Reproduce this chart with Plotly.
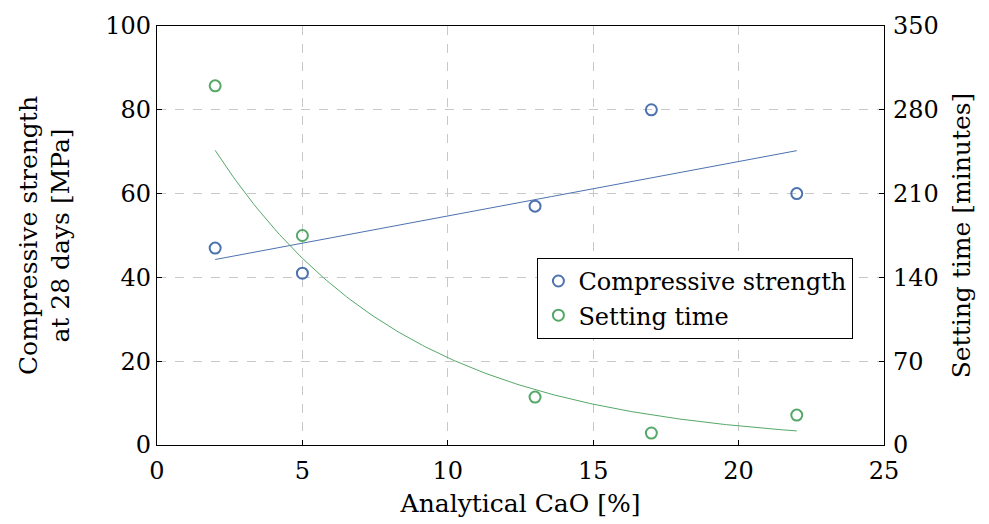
import numpy as np
import plotly.graph_objects as go

cao = [2, 5, 13, 17, 22]
strength = [47, 41, 57, 80, 60]
setting = [300, 175, 40, 10, 25]

x_ticks = [0, 5, 10, 15, 20, 25]
y1_ticks = [0, 20, 40, 60, 80, 100]
y2_ticks = [0, 70, 140, 210, 280, 350]

BLUE = "#4C72B0"
GREEN = "#55A868"
FONT = "DejaVu Serif, Liberation Serif, serif"

# regression fits derived from the data
lin = np.polyfit(cao, strength, 1)
xs = np.linspace(min(cao), max(cao), 200)
lin_y = np.polyval(lin, xs)
ex = np.polyfit(cao, np.log(setting), 1)
exp_y = np.exp(np.polyval(ex, xs))

fig = go.Figure()
fig.add_trace(go.Scatter(x=xs, y=lin_y, mode="lines", line=dict(color=BLUE, width=1),
                         showlegend=False, hoverinfo="skip"))
fig.add_trace(go.Scatter(x=xs, y=exp_y, mode="lines", line=dict(color=GREEN, width=1),
                         showlegend=False, hoverinfo="skip", yaxis="y2"))
fig.add_trace(go.Scatter(x=cao, y=strength, mode="markers", name="Compressive strength",
                         marker=dict(symbol="circle-open", size=11, color=BLUE, line=dict(width=2))))
fig.add_trace(go.Scatter(x=cao, y=setting, mode="markers", name="Setting time", yaxis="y2",
                         marker=dict(symbol="circle-open", size=11, color=GREEN, line=dict(width=2))))

axis_common = dict(showline=True, linecolor="black", linewidth=1.2, ticks="inside", ticklen=5,
                   tickcolor="black", tickfont=dict(family=FONT, size=24, color="black"),
                   zeroline=False)
fig.update_layout(
    width=989, height=524,
    margin=dict(l=157, r=105, t=20, b=79),
    paper_bgcolor="white", plot_bgcolor="white",
    font=dict(family=FONT, size=24, color="black"),
    xaxis=dict(range=[0, 25], tickvals=x_ticks, mirror=True, showgrid=True,
               gridcolor="#c8c8c8", griddash="dash", gridwidth=1, ticklabelstandoff=4,
               title=dict(text="Analytical CaO [%]", font=dict(family=FONT, size=25), standoff=10),
               **axis_common),
    yaxis=dict(range=[0, 100], tickvals=y1_ticks, showgrid=True,
               gridcolor="#c8c8c8", griddash="dash", gridwidth=1,
               title=dict(text="Compressive strength<br>at 28 days [MPa]",
                          font=dict(family=FONT, size=25), standoff=28),
               **axis_common),
    yaxis2=dict(range=[0, 350], tickvals=y2_ticks, overlaying="y", side="right", showgrid=False,
                ticklabelstandoff=3,
                title=dict(text="Setting time [minutes]", font=dict(family=FONT, size=25), standoff=14),
                **axis_common),
    legend=dict(x=0.523, y=0.447, xanchor="left", yanchor="top", bgcolor="white",
                bordercolor="black", borderwidth=1.2, font=dict(family=FONT, size=24),
                itemwidth=30, tracegroupgap=0),
    showlegend=True,
)

fig.write_html("out.html")
